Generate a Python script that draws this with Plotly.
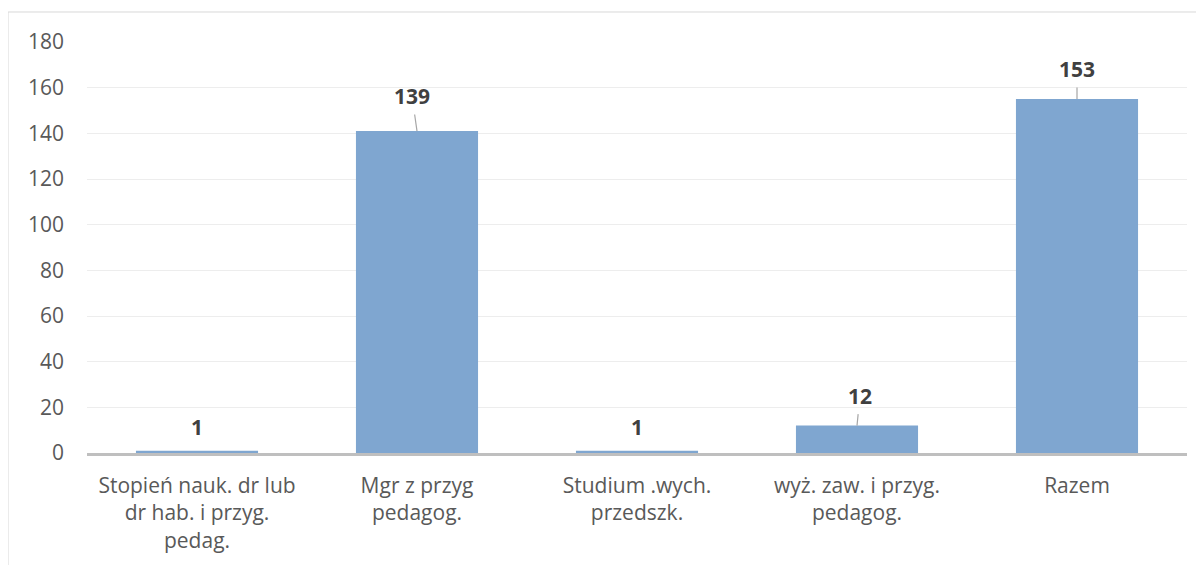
import plotly.graph_objects as go

categories = ["Stopień nauk. dr lub<br>dr hab. i przyg.<br>pedag.", "Mgr z przyg<br>pedagog.",
              "Studium .wych.<br>przedszk.", "wyż. zaw. i przyg.<br>pedagog.", "Razem"]
bar_values = [1, 141, 1, 12, 155]
label_texts = ["1", "139", "1", "12", "153"]
tick_vals = [0, 20, 40, 60, 80, 100, 120, 140, 160, 180]

# label offsets (pixels) relative to bar top
label_dx = [0, -5, 0, 3, 0]
label_dy = [-24, -35, -24, -30, -30]
leader = [False, True, False, True, True]

FONT = "Open Sans"
FS = 21

fig = go.Figure()
fig.add_trace(go.Bar(x=categories, y=bar_values, marker=dict(color="#7FA6D0", line=dict(width=0)),
                     width=0.555, hoverinfo="skip"))

for c, v, t, dx, dy, ld in zip(categories, bar_values, label_texts, label_dx, label_dy, leader):
    if ld:
        fig.add_annotation(x=c, y=v, text="<b>%s</b>" % t, showarrow=True, arrowhead=0,
                           arrowwidth=1.2, arrowcolor="#A6A6A6", ax=dx, ay=dy,
                           startstandoff=3, standoff=0,
                           font=dict(family=FONT, size=FS, color="#404040"))
    else:
        fig.add_annotation(x=c, y=v, text="<b>%s</b>" % t, showarrow=False, yshift=-dy,
                           font=dict(family=FONT, size=FS, color="#404040"))

fig.add_shape(type="rect", xref="paper", yref="paper", x0=-0.0718, x1=1.5, y0=1.073, y1=-0.6,
              line=dict(color="#D9D9D9", width=1), fillcolor="rgba(0,0,0,0)", layer="below")

fig.update_layout(
    width=1204, height=565,
    margin=dict(l=79, r=25, t=34, b=120),
    paper_bgcolor="white", plot_bgcolor="white",
    showlegend=False,
    font=dict(family=FONT, size=FS, color="#595959"),
    xaxis=dict(showgrid=False, showline=True, linecolor="#BFBFBF", linewidth=2.5,
               ticks="", tickfont=dict(family=FONT, size=FS, color="#595959"),
               ticklabelstandoff=12),
    yaxis=dict(range=[0, 180], tickvals=tick_vals, showgrid=True, gridcolor="#EDEDED",
               gridwidth=1, zeroline=False, showline=False, ticks="",
               tickfont=dict(family=FONT, size=FS, color="#595959"), ticklabelstandoff=22),
)

fig.write_html("out.html")
